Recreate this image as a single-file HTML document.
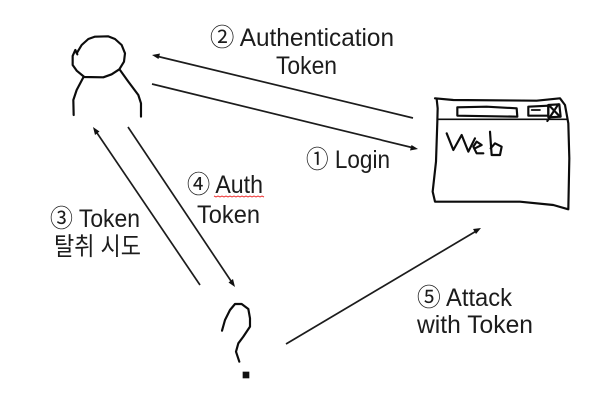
<!DOCTYPE html>
<html><head><meta charset="utf-8"><style>
html,body{margin:0;padding:0;background:#fff;width:612px;height:415px;overflow:hidden}
svg{display:block}
text{font-family:"Liberation Sans","Noto Sans CJK KR",sans-serif;font-size:25px;fill:#1c1c1c}
.h{fill:none;stroke:#0c0c0c;stroke-width:6.5;stroke-linecap:round;stroke-linejoin:round}
.t{stroke-width:5}
.a{stroke:#1c1c1c;stroke-width:1.7;fill:none}
.p{fill:#111}
</style></head><body>
<svg width="612" height="415" viewBox="0 0 612 415" xmlns="http://www.w3.org/2000/svg">
<g transform="translate(40,20) scale(.3333)">
<polyline class="h" points="112,103 106,90 98,108 98,135 110,152 133,171 190,172 215,163 238,148 252,125 255,100 245,75 225,57 205,49 165,50 145,57 125,75 110,100"/>
<polyline class="h" points="130,172 110,210 100,240 101,285"/>
<polyline class="h" points="240,150 265,185 295,225 303,250 303,290"/>
</g>
<g transform="translate(420,85) scale(.3333)">
<polyline class="h" points="45,40 100,45 350,47 420,40 435,60 445,115 448,220 445,373 400,360 300,350 45,350 38,320 48,230 52,110 53,70 50,42"/>
<polyline class="h t" points="53,103 440,103"/>
<polyline class="h" points="112,67 200,65 290,70 292,95 112,92 112,67"/>
<polyline class="h" points="325,65 385,62 385,92 325,92 325,65"/>
<polyline class="h t" points="335,75 360,75"/>
<polyline class="h" points="385,60 418,58 422,95 385,97 385,60"/>
<polyline class="h" points="388,62 420,95"/>
<polyline class="h" points="415,58 382,108"/>
<polyline class="h" points="80,145 100,195 125,150 145,200 165,160"/>
<polyline class="h" points="165,190 185,180 170,170 160,185 170,205 190,205"/>
<polyline class="h" points="210,140 215,210 240,210 245,185 225,175 212,190"/>
</g>
<g transform="translate(200,285) scale(.3333)">
<polyline class="h" points="66,137 75,105 90,75 105,57 125,57 145,72 150,100 150,125 130,155 115,175 108,200 118,230"/>
<rect class="p" x="128" y="260" width="20" height="20"/>
</g>
<!-- arrows -->
<line class="a" x1="413" y1="118" x2="156" y2="56"/>
<polygon class="p" points="152,55 160,53.5 158.500,59"/>
<line class="a" x1="152" y1="84" x2="414" y2="148"/>
<polygon class="p" points="418,149 410,150.500 411.500,145"/>
<line class="a" x1="200" y1="285" x2="95" y2="130"/>
<polygon class="p" points="93,127 99.500,131.500 95,135"/>
<line class="a" x1="128" y1="127" x2="233" y2="284"/>
<polygon class="p" points="235,287 228.500,282.500 233,279"/>
<line class="a" x1="286" y1="344" x2="478" y2="230"/>
<polygon class="p" points="481,228 476,234 473,229"/>
<!-- labels -->
<text x="210" y="46" textLength="184" lengthAdjust="spacingAndGlyphs">② Authentication</text>
<text x="276" y="74" textLength="61" lengthAdjust="spacingAndGlyphs">Token</text>
<text x="306" y="168" textLength="84" lengthAdjust="spacingAndGlyphs">① Login</text>
<text x="187" y="193" textLength="76" lengthAdjust="spacingAndGlyphs">④ Auth</text>
<text x="197" y="223" textLength="63" lengthAdjust="spacingAndGlyphs">Token</text>
<text x="50" y="227" textLength="90" lengthAdjust="spacingAndGlyphs">③ Token</text>
<text x="54" y="255" textLength="87" lengthAdjust="spacingAndGlyphs">탈취 시도</text>
<text x="417" y="306" textLength="95" lengthAdjust="spacingAndGlyphs">⑤ Attack</text>
<text x="417" y="333" textLength="116" lengthAdjust="spacingAndGlyphs">with Token</text>
<polyline fill="none" stroke="#e33" stroke-width="1" points="214,196 216,197 218,196 220,197 222,196 224,197 226,196 228,197 230,196 232,197 234,196 236,197 238,196 240,197 242,196 244,197 246,196 248,197 250,196 252,197 254,196 256,197 258,196 260,197 262,196 264,197"/>
</svg>
</body></html>
